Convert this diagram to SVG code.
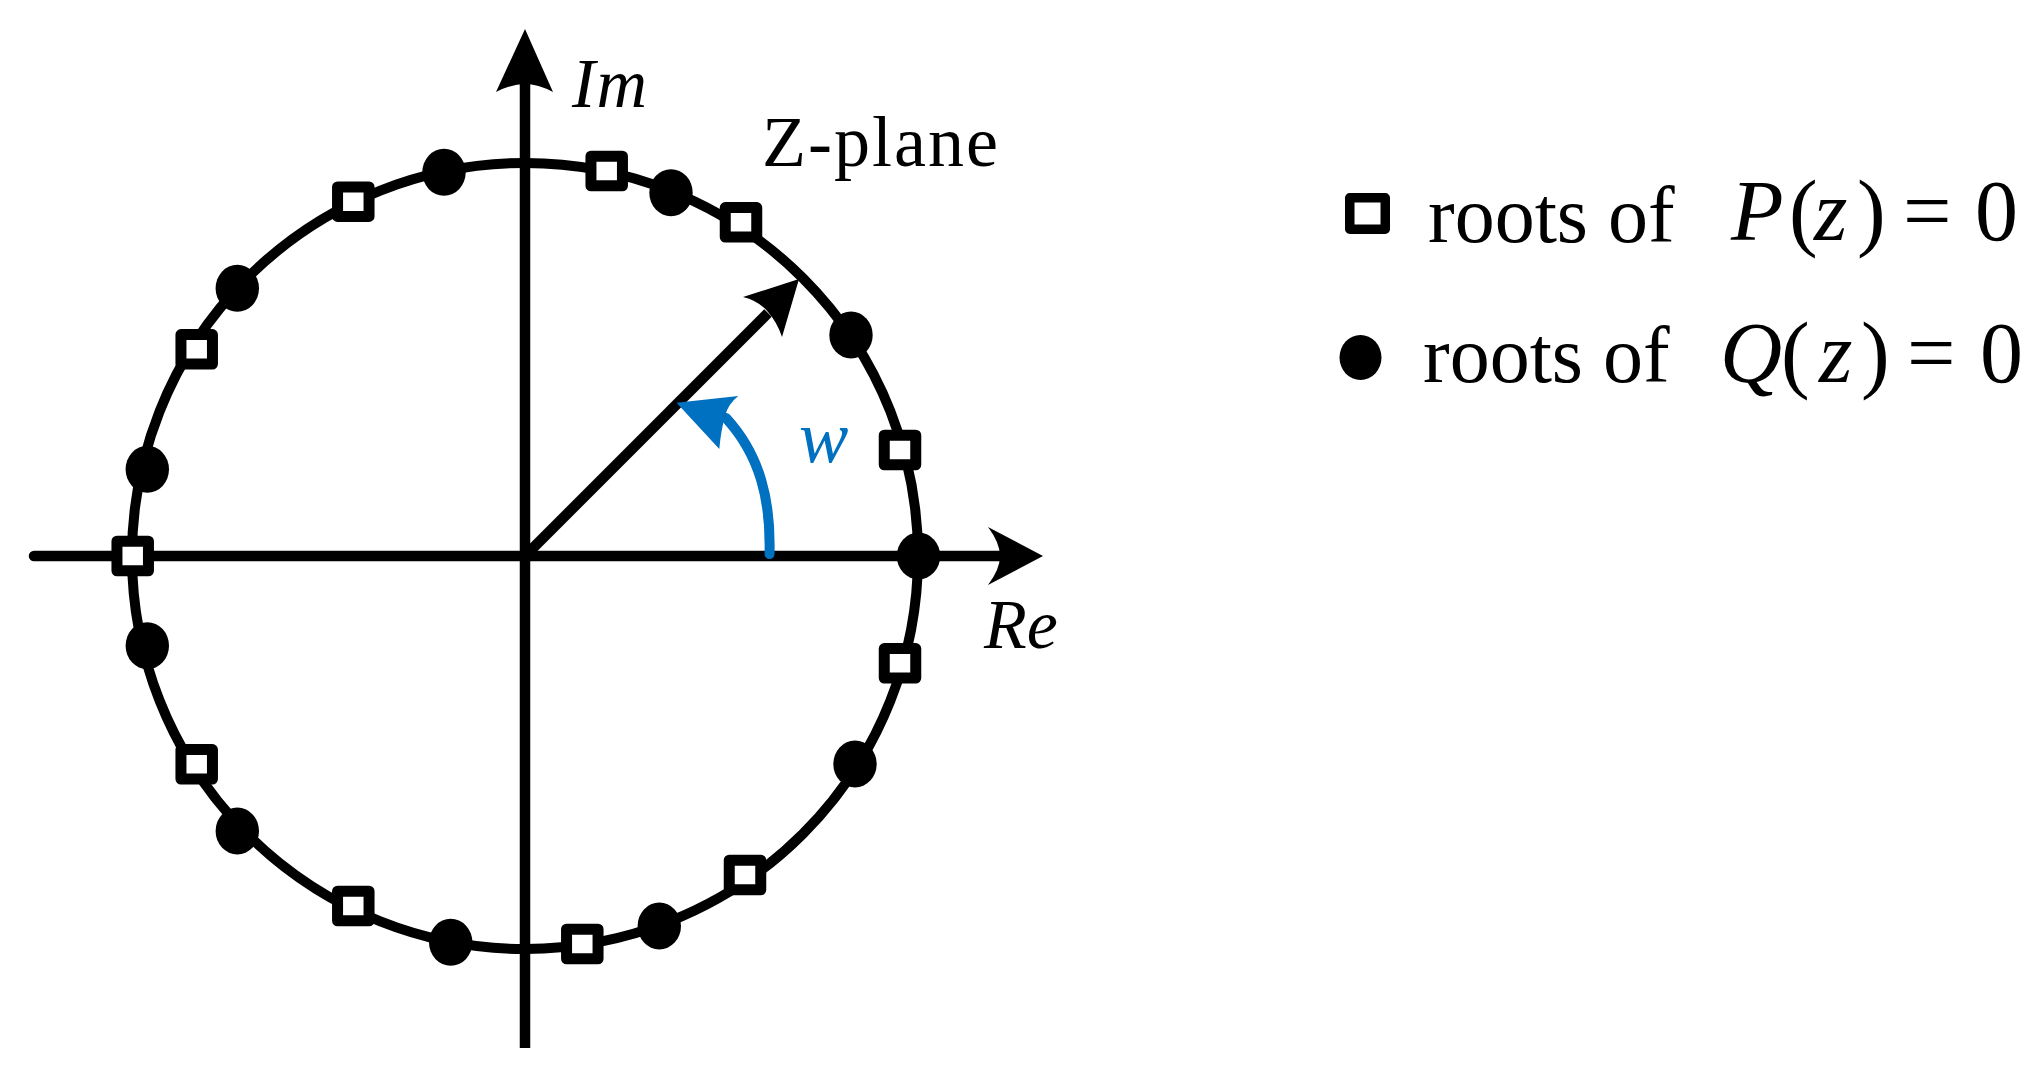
<svg xmlns="http://www.w3.org/2000/svg" width="2032" height="1083" viewBox="0 0 2032 1083">
<style>
.ax{stroke:#000;stroke-width:10.5;fill:none}
.head{fill:#000;stroke:none}
.ring{stroke:#000;stroke-width:10;fill:none}
.sq{fill:#fff;stroke:#000;stroke-width:11;stroke-linejoin:round}
.dot{fill:#000;stroke:none}
.lbl{font-family:"Liberation Serif","Times New Roman",serif;fill:#000}
.it{font-style:italic}
.blue{fill:#0070C0}
</style>
<defs>
<rect id="sqs" x="-15.75" y="-14.75" width="31.5" height="29.5"/>
<ellipse id="dts" cx="0" cy="0" rx="21.7" ry="23.5"/>
</defs>
<rect x="0" y="0" width="2032" height="1083" fill="#fff"/>

<g id="unit-circle">
<circle class="ring" cx="525" cy="556" r="393"/>
</g>

<g id="connectors">
<line class="ax" x1="34" y1="556" x2="1000" y2="556" stroke-linecap="round"/>
<path class="head" d="M1043,556 L988,527 Q1000,543 1000,556 Q1000,569 988,585 Z"/>
<line class="ax" x1="525" y1="84" x2="525" y2="1048"/>
<path class="head" d="M525,29 L553,92 Q538,84 525,84 Q512,84 496,92 Z"/>
<line class="ax" x1="525" y1="556" x2="768" y2="313"/>
<path class="head" d="M799,279 L743,297 Q759,301 768,312 Q777,322 782,337 Z"/>
<path d="M769.5,554 C771,500 760,455 726,418" fill="none" stroke="#0070C0" stroke-width="10" stroke-linecap="round"/>
<path fill="#0070C0" d="M676.5,402.7 L738.3,396 Q728,404 725,416 Q721,430 719.3,449 Z"/>
</g>

<g id="p-roots">
<g id="p1"><use href="#sqs" class="sq" x="606.7" y="171"/></g>
<g id="p2"><use href="#sqs" class="sq" x="741" y="222.3"/></g>
<g id="p3"><use href="#sqs" class="sq" x="900" y="450"/></g>
<g id="p4"><use href="#sqs" class="sq" x="900" y="663.3"/></g>
<g id="p5"><use href="#sqs" class="sq" x="745" y="875"/></g>
<g id="p6"><use href="#sqs" class="sq" x="582.3" y="944"/></g>
<g id="p7"><use href="#sqs" class="sq" x="353.3" y="906"/></g>
<g id="p8"><use href="#sqs" class="sq" x="196.7" y="764.3"/></g>
<g id="p9"><use href="#sqs" class="sq" x="132.7" y="556"/></g>
<g id="p10"><use href="#sqs" class="sq" x="196.7" y="349.3"/></g>
<g id="p11"><use href="#sqs" class="sq" x="353.3" y="201.7"/></g>
</g>

<g id="q-roots">
<g id="q1"><use href="#dts" class="dot" x="444" y="172.3"/></g>
<g id="q2"><use href="#dts" class="dot" x="671" y="192.7"/></g>
<g id="q3"><use href="#dts" class="dot" x="851" y="335"/></g>
<g id="q4"><use href="#dts" class="dot" x="918.5" y="556"/></g>
<g id="q5"><use href="#dts" class="dot" x="855" y="764"/></g>
<g id="q6"><use href="#dts" class="dot" x="659.3" y="926"/></g>
<g id="q7"><use href="#dts" class="dot" x="450.7" y="942.3"/></g>
<g id="q8"><use href="#dts" class="dot" x="237.3" y="831"/></g>
<g id="q9"><use href="#dts" class="dot" x="147.3" y="645.7"/></g>
<g id="q10"><use href="#dts" class="dot" x="147.3" y="469.3"/></g>
<g id="q11"><use href="#dts" class="dot" x="237.3" y="288.3"/></g>
</g>

<g id="label-im"><text class="lbl it" x="572" y="107" font-size="70" textLength="75">Im</text></g>
<g id="label-re"><text class="lbl it" x="984" y="648" font-size="70">Re</text></g>
<g id="label-zplane"><text class="lbl" x="762" y="166" font-size="72" textLength="236">Z-plane</text></g>
<g id="label-w"><text class="lbl it blue" x="799" y="461.7" font-size="74">w</text></g>

<g id="legend-p">
<rect x="1349.75" y="197.75" width="35.5" height="31.5" fill="#fff" stroke="#000" stroke-width="9.5" stroke-linejoin="round"/>
<text class="lbl" x="1428" y="241.7" font-size="80">roots of</text>
<text class="lbl" y="240" font-size="86"><tspan class="it" x="1731">P</tspan><tspan x="1789">(</tspan><tspan class="it" x="1814">z</tspan><tspan x="1857">)</tspan><tspan x="1903">=</tspan><tspan x="1975">0</tspan></text>
</g>
<g id="legend-q">
<ellipse cx="1360.5" cy="357.5" rx="21" ry="22.5" fill="#000"/>
<text class="lbl" x="1423" y="381.7" font-size="80">roots of</text>
<text class="lbl" y="381.7" font-size="86"><tspan class="it" x="1720">Q</tspan><tspan x="1781">(</tspan><tspan class="it" x="1819">z</tspan><tspan x="1861">)</tspan><tspan x="1907">=</tspan><tspan x="1980">0</tspan></text>
</g>
</svg>
